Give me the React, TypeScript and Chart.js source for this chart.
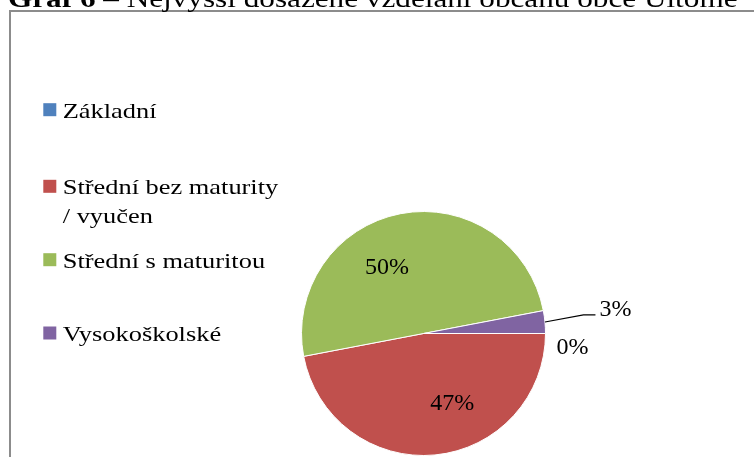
import React, { useEffect, useRef } from "react";
import { Chart, registerables } from "chart.js";

Chart.register(...registerables);

// ---- data ----
const categories = ["Základní", "Střední bez maturity / vyučen", "Střední s maturitou", "Vysokoškolské"];
const values = [0, 47, 50, 3];
const colors = ["#4F81BD", "#C0504D", "#9BBB59", "#8064A2"];
const titleBold = "Graf 6";
const titleRest = " – Nejvyšší dosažené vzdělání občanů obce Ultomě";

// ---- layout (styles / positions, not data) ----
const FONT = '"Liberation Serif", "Times New Roman", serif';
const legendBaselines = [117.7, 194.3, 267.7, 341];
const legendLineHeight = 29;
const legendTextX = 62.7;
const legendBoxX = 43.3;
const legendBoxSize = 13;
const legendScaleX = 1.2;
const legendFontSize = 22;
const legendMaxWidth = 225;

function wrapText(ctx: CanvasRenderingContext2D, text: string, maxW: number): string[] {
  const words = text.split(" ");
  const lines: string[] = [];
  let cur = "";
  for (const w of words) {
    const test = cur ? cur + " " + w : w;
    if (ctx.measureText(test).width * legendScaleX > maxW && cur) {
      lines.push(cur);
      cur = w;
    } else {
      cur = test;
    }
  }
  if (cur) lines.push(cur);
  return lines;
}

const decorPlugin = {
  id: "decor",
  beforeDraw(chart: any) {
    const ctx: CanvasRenderingContext2D = chart.ctx;
    ctx.save();
    ctx.fillStyle = "#fff";
    ctx.fillRect(0, 0, chart.width, chart.height);
    ctx.strokeStyle = "#8c8c8c";
    ctx.lineWidth = 2;
    ctx.strokeRect(10, 11, 900, 600);
    ctx.restore();
  },
  afterDraw(chart: any) {
    const ctx: CanvasRenderingContext2D = chart.ctx;
    // title (cut at top)
    ctx.save();
    ctx.translate(8, 6.5);
    ctx.scale(1.2, 1);
    ctx.fillStyle = "#000";
    ctx.textBaseline = "alphabetic";
    ctx.textAlign = "left";
    ctx.font = `bold 26px ${FONT}`;
    ctx.fillText(titleBold, 0, 0);
    const bw = ctx.measureText(titleBold).width;
    ctx.font = `26px ${FONT}`;
    ctx.fillText(titleRest, bw, 0);
    ctx.restore();

    // legend
    ctx.save();
    ctx.font = `${legendFontSize}px ${FONT}`;
    categories.forEach((cat, i) => {
      const base = legendBaselines[i];
      ctx.fillStyle = colors[i];
      ctx.fillRect(legendBoxX, base - 14.5, legendBoxSize, legendBoxSize);
      const lines = wrapText(ctx, cat, legendMaxWidth);
      ctx.fillStyle = "#000";
      lines.forEach((ln, j) => {
        ctx.save();
        ctx.translate(legendTextX, base + j * legendLineHeight);
        ctx.scale(legendScaleX, 1);
        ctx.textAlign = "left";
        ctx.textBaseline = "alphabetic";
        ctx.fillText(ln, 0, 0);
        ctx.restore();
      });
    });
    ctx.restore();
  },
  afterDatasetsDraw(chart: any) {
    const ctx: CanvasRenderingContext2D = chart.ctx;
    const meta = chart.getDatasetMeta(0);
    const total = values.reduce((a, b) => a + b, 0);
    meta.data.forEach((arc: any, i: number) => {
      const { x, y, startAngle, endAngle, outerRadius } = arc.getProps(
        ["x", "y", "startAngle", "endAngle", "outerRadius"],
        true
      );
      const frac = values[i] / total;
      const text = Math.round(frac * 100) + "%";
      ctx.save();
      ctx.font = `24px ${FONT}`;
      ctx.fillStyle = "#000";
      if (frac >= 0.05) {
        const a = startAngle + 0.4 * (endAngle - startAngle);
        const d = 0.62 * outerRadius;
        ctx.textAlign = "center";
        ctx.textBaseline = "middle";
        ctx.fillText(text, x + d * Math.cos(a), y + d * Math.sin(a));
      } else {
        const mid = (startAngle + endAngle) / 2;
        const ex = x + outerRadius * Math.cos(mid);
        const ey = y + outerRadius * Math.sin(mid);
        ctx.textAlign = "left";
        ctx.textBaseline = "alphabetic";
        if (values[i] > 0) {
          const ang = mid - 0.022;
          const lx = x + outerRadius * 1.32 * Math.cos(ang);
          const ly = y + outerRadius * 1.32 * Math.sin(ang);
          ctx.strokeStyle = "#000";
          ctx.lineWidth = 1.2;
          ctx.beginPath();
          ctx.moveTo(ex, ey);
          ctx.lineTo(lx, ly);
          ctx.lineTo(lx + 12, ly);
          ctx.stroke();
          ctx.fillText(text, lx + 16, ly + 1.5);
        } else {
          ctx.fillText(text, ex + 11, ey + 20.5);
        }
      }
      ctx.restore();
    });
  },
};

export default function App() {
  const ref = useRef<HTMLCanvasElement | null>(null);
  useEffect(() => {
    if (!ref.current) return;
    const chart = new Chart(ref.current, {
      type: "pie",
      data: {
        labels: categories,
        datasets: [
          {
            data: values,
            backgroundColor: colors,
            borderColor: "#ffffff",
            borderWidth: 1,
          },
        ],
      },
      options: {
        responsive: false,
        animation: false,
        rotation: 90,
        layout: { padding: { left: 301, right: 208, top: 211, bottom: 1 } },
        plugins: {
          legend: { display: false },
          title: { display: false },
          tooltip: { enabled: false },
        },
        events: [],
      },
      plugins: [decorPlugin],
    });
    return () => chart.destroy();
  }, []);
  return (
    <div style={{ position: "absolute", left: 0, top: 0, width: 754, height: 457, overflow: "hidden", background: "#fff" }}>
      <canvas ref={ref} width={754} height={457} style={{ display: "block" }} />
    </div>
  );
}
